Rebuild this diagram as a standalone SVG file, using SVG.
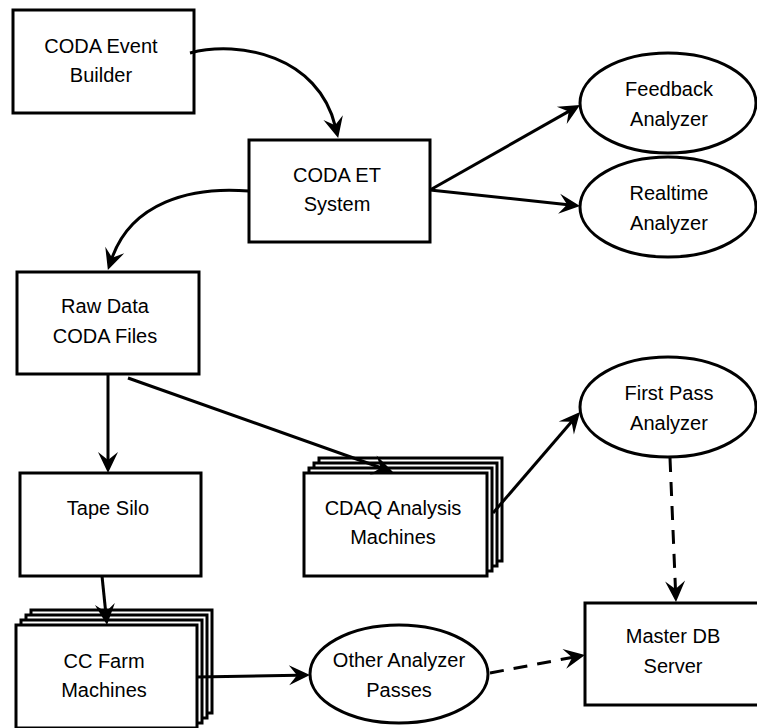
<svg xmlns="http://www.w3.org/2000/svg" width="757" height="728" viewBox="0 0 757 728">
<style>
  .box { fill: #ffffff; stroke: #000000; stroke-width: 3; }
  .ell { fill: #ffffff; stroke: #000000; stroke-width: 3; }
  .lbl { font-family: "Liberation Sans", Arial, sans-serif; font-size: 20px; fill: #000000; text-anchor: middle; }
  .edge { fill: none; stroke: #000000; stroke-width: 3; marker-end: url(#arrow); }
  .dash { stroke-dasharray: 14 10; }
</style>
<defs>
  <marker id="arrow" markerUnits="userSpaceOnUse" viewBox="-22 -11 23 22" markerWidth="23" markerHeight="22" refX="-12" refY="0" orient="auto">
    <path d="M0,0 L-21,-10 L-13,0 L-21,10 Z" fill="#000000"/>
  </marker>
</defs>
<rect width="757" height="728" fill="#ffffff"/>

<g id="node-event-builder">
  <rect class="box" x="13" y="10" width="181" height="103"/>
  <text class="lbl" x="101" y="53">CODA Event</text>
  <text class="lbl" x="101" y="82">Builder</text>
</g>
<g id="node-et-system">
  <rect class="box" x="249" y="140" width="181" height="102"/>
  <text class="lbl" x="337" y="182">CODA ET</text>
  <text class="lbl" x="337" y="211">System</text>
</g>
<g id="node-feedback">
  <ellipse class="ell" cx="668" cy="103" rx="88" ry="50"/>
  <text class="lbl" x="669" y="96">Feedback</text>
  <text class="lbl" x="669" y="126">Analyzer</text>
</g>
<g id="node-realtime">
  <ellipse class="ell" cx="668" cy="207" rx="88" ry="50"/>
  <text class="lbl" x="669" y="200">Realtime</text>
  <text class="lbl" x="669" y="230">Analyzer</text>
</g>
<g id="node-raw-data">
  <rect class="box" x="17" y="272" width="182" height="102"/>
  <text class="lbl" x="105" y="313">Raw Data</text>
  <text class="lbl" x="105" y="343">CODA Files</text>
</g>
<g id="node-first-pass">
  <ellipse class="ell" cx="668" cy="407" rx="88" ry="50"/>
  <text class="lbl" x="669" y="400">First Pass</text>
  <text class="lbl" x="669" y="430">Analyzer</text>
</g>
<g id="node-tape-silo">
  <rect class="box" x="20" y="473" width="181" height="103"/>
  <text class="lbl" x="108" y="515">Tape Silo</text>
</g>
<g id="node-cdaq">
  <rect class="box" x="319" y="458" width="183" height="103"/>
  <rect class="box" x="314" y="463" width="183" height="103"/>
  <rect class="box" x="309" y="468" width="183" height="103"/>
  <rect class="box" x="304" y="473" width="183" height="103"/>
  <text class="lbl" x="393" y="515">CDAQ Analysis</text>
  <text class="lbl" x="393" y="544">Machines</text>
</g>
<g id="node-cc-farm">
  <rect class="box" x="31" y="610" width="181" height="103"/>
  <rect class="box" x="26" y="615" width="181" height="103"/>
  <rect class="box" x="21" y="620" width="181" height="103"/>
  <rect class="box" x="16" y="625" width="181" height="103"/>
  <text class="lbl" x="104" y="668">CC Farm</text>
  <text class="lbl" x="104" y="697">Machines</text>
</g>
<g id="node-other-passes">
  <ellipse class="ell" cx="399" cy="674" rx="89" ry="49"/>
  <text class="lbl" x="399" y="667">Other Analyzer</text>
  <text class="lbl" x="399" y="697">Passes</text>
</g>
<g id="node-master-db">
  <rect class="box" x="585" y="603" width="182" height="102"/>
  <text class="lbl" x="673" y="643">Master DB</text>
  <text class="lbl" x="673" y="673">Server</text>
</g>

<g id="connectors">
  <path class="edge" d="M190,53 C240,40 318,56 335.3,126.3"/>
  <path class="edge" d="M249,191 C190,186 131,203 111.8,258.6"/>
  <path class="edge" d="M430,190 L569.6,110.9"/>
  <path class="edge" d="M430,190 L568.1,204.7"/>
  <path class="edge" d="M108,374 L108,461"/>
  <path class="edge" d="M128,378 L381.7,468"/>
  <path class="edge" d="M493,513 L572.2,421.1"/>
  <path class="edge dash" d="M670,458 L675.5,590"/>
  <path class="edge" d="M102,576 L105.8,613"/>
  <path class="edge" d="M197,677 L298,675.2"/>
  <path class="edge dash" d="M490,673 L573.2,657.2"/>
</g>
</svg>
